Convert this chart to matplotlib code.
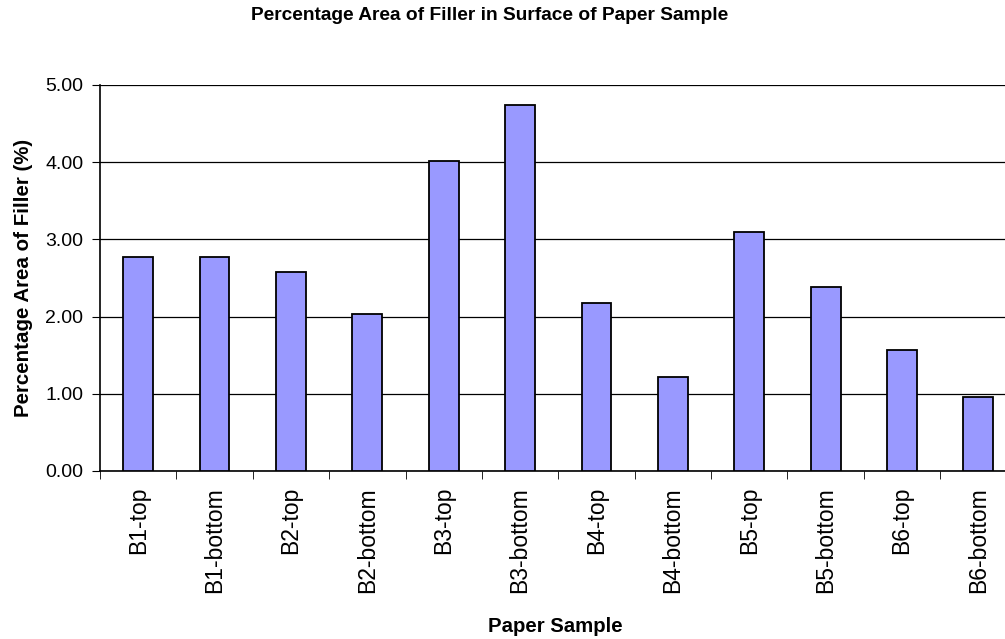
import matplotlib
matplotlib.use("Agg")
import matplotlib.pyplot as plt
import numpy as np

plt.rcParams['font.family'] = ['Liberation Sans', 'DejaVu Sans']

# data
samples = ['B1-top', 'B1-bottom', 'B2-top', 'B2-bottom', 'B3-top', 'B3-bottom',
           'B4-top', 'B4-bottom', 'B5-top', 'B5-bottom', 'B6-top', 'B6-bottom']
filler_pct = [2.77, 2.77, 2.58, 2.03, 4.01, 4.74, 2.18, 1.22, 3.10, 2.38, 1.57, 0.96]
y_ticks = [0, 1, 2, 3, 4, 5]

fig = plt.figure(figsize=(10.05, 6.39), dpi=100)
# plot area runs past the right edge of the picture, like the original
ax = fig.add_axes([0.0995, 0.263, 0.912, 0.604])

x = np.arange(len(samples))
ax.bar(x, filler_pct, width=0.39, color='#9999FF', edgecolor='black', linewidth=1.3, zorder=3)

ax.set_xlim(-0.5, len(samples) - 0.5)
ax.set_ylim(0, 5)
ax.set_yticks(y_ticks)
ax.set_yticklabels([f'{v:.2f}' for v in y_ticks], fontsize=14)
ax.yaxis.grid(True, color='black', linewidth=0.9, zorder=0)

ax.set_xticks(x)
ax.set_xticklabels(samples, rotation=90, fontsize=16.5)
ax.tick_params(axis='x', length=0, pad=11.5)
ax.set_xticks(np.arange(len(samples) + 1) - 0.5, minor=True)
ax.tick_params(axis='x', which='minor', length=6, direction='out', color='black')
ax.tick_params(axis='y', length=6, direction='out', color='black', pad=6)

for side in ['top', 'right']:
    ax.spines[side].set_visible(False)
ax.spines['left'].set_linewidth(1.2)
ax.spines['bottom'].set_linewidth(1.2)

ax.set_ylabel('Percentage Area of Filler (%)', fontsize=14.8, fontweight='bold')
ax.yaxis.set_label_coords(-0.073, 0.5)
ax.set_xlabel('Paper Sample', fontsize=14.7, fontweight='bold')
ax.xaxis.set_label_coords(0.497, -0.378)
fig.text(0.4876, 0.975, 'Percentage Area of Filler in Surface of Paper Sample',
         ha='center', va='center', fontsize=13.8, fontweight='bold')

plt.savefig('out.png', dpi=100)
plt.close()
